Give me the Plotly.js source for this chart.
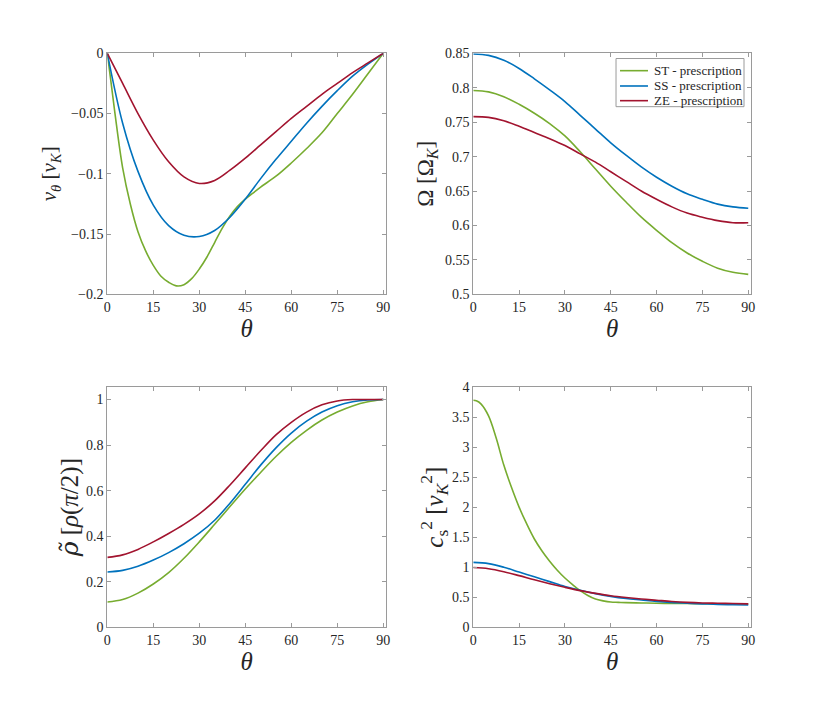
<!DOCTYPE html>
<html>
<head>
<meta charset="utf-8">
<script src="https://cdn.plot.ly/plotly-3.0.1.min.js"></script>
<style>
  html, body { margin: 0; padding: 0; background: #fff; }
  #chart { width: 830px; height: 706px; }
</style>
</head>
<body>
<div id="chart"></div>
<script>
// theta grids (degrees)
const thetaFine = [0, 1, 2.5, 5, 7.5, 10, 12.5, 15, 17.5, 20, 22.5, 25, 27.5, 30, 32.5, 35, 37.5, 40, 42.5, 45, 47.5, 50, 55, 60, 65, 70, 75, 80, 85, 90];
const theta = [0, 5, 10, 15, 20, 25, 30, 35, 40, 45, 50, 55, 60, 65, 70, 75, 80, 85, 90];

// v_theta [v_K]
const vthST = [0, -0.02, -0.05, -0.095, -0.125, -0.148, -0.164, -0.176, -0.185, -0.19, -0.193, -0.192, -0.187, -0.179, -0.169, -0.157, -0.145, -0.135, -0.127, -0.121, -0.116, -0.111, -0.102, -0.091, -0.079, -0.066, -0.050, -0.034, -0.017, 0];
const vthSS = [0, -0.058, -0.098, -0.126, -0.143, -0.151, -0.152, -0.147, -0.136, -0.121, -0.104, -0.088, -0.073, -0.058, -0.044, -0.031, -0.019, -0.009, 0];
const vthZE = [0, -0.025, -0.05, -0.072, -0.09, -0.1025, -0.108, -0.1055, -0.097, -0.087, -0.076, -0.065, -0.054, -0.044, -0.034, -0.025, -0.016, -0.008, 0];

// Omega [Omega_K]
const omST = [0.796, 0.794, 0.787, 0.776, 0.763, 0.748, 0.730, 0.707, 0.682, 0.657, 0.634, 0.612, 0.593, 0.575, 0.560, 0.548, 0.538, 0.532, 0.529];
const omSS = [0.849, 0.847, 0.840, 0.828, 0.813, 0.797, 0.780, 0.760, 0.740, 0.720, 0.702, 0.685, 0.670, 0.657, 0.646, 0.638, 0.631, 0.627, 0.625];
const omZE = [0.758, 0.757, 0.752, 0.744, 0.735, 0.726, 0.716, 0.704, 0.692, 0.678, 0.664, 0.650, 0.638, 0.627, 0.618, 0.612, 0.607, 0.604, 0.604];

// rho tilde [rho(pi/2)]
const rhoST = [0.111, 0.122, 0.15, 0.19, 0.24, 0.303, 0.375, 0.452, 0.53, 0.607, 0.68, 0.75, 0.812, 0.865, 0.91, 0.945, 0.972, 0.99, 1.0];
const rhoSS = [0.243, 0.25, 0.268, 0.295, 0.328, 0.367, 0.413, 0.47, 0.545, 0.628, 0.712, 0.788, 0.853, 0.905, 0.945, 0.973, 0.99, 0.998, 1.0];
const rhoZE = [0.307, 0.318, 0.342, 0.375, 0.412, 0.452, 0.498, 0.555, 0.625, 0.70, 0.775, 0.845, 0.90, 0.945, 0.977, 0.994, 1.0, 1.0, 1.0];

// c_s^2 [v_K^2]
const csST = [3.78, 3.77, 3.72, 3.52, 3.15, 2.70, 2.33, 2.0, 1.72, 1.47, 1.27, 1.10, 0.95, 0.82, 0.71, 0.61, 0.53, 0.47, 0.44, 0.42, 0.415, 0.41, 0.405, 0.40, 0.398, 0.395, 0.392, 0.39, 0.39, 0.39];
const csSS = [1.08, 1.06, 1.0, 0.92, 0.84, 0.76, 0.68, 0.615, 0.56, 0.515, 0.48, 0.455, 0.43, 0.415, 0.40, 0.39, 0.38, 0.375, 0.37];
const csZE = [0.995, 0.975, 0.925, 0.86, 0.79, 0.725, 0.665, 0.61, 0.565, 0.525, 0.495, 0.47, 0.45, 0.43, 0.415, 0.405, 0.40, 0.395, 0.39];

const names = ["ST - prescription", "SS - prescription", "ZE - prescription"];
const colors = ["#77AC30", "#0072BD", "#A2142F"];
const xTicks = [0, 15, 30, 45, 60, 75, 90];

const SERIF = "'Liberation Serif', 'Times New Roman', 'DejaVu Serif', serif";

function line(x, y, i, ax) {
    return {
        x, y, type: "scatter", mode: "lines",
        name: names[i],
        line: { color: colors[i], width: 1.6, shape: "spline", smoothing: 1 },
        xaxis: "x" + ax, yaxis: "y" + ax,
        showlegend: false,
        hoverinfo: "skip",
    };
}

const traces = [
    line(thetaFine, vthST, 0, ""),
    line(theta, vthSS, 1, ""),
    line(theta, vthZE, 2, ""),
    line(theta, omST, 0, "2"),
    line(theta, omSS, 1, "2"),
    line(theta, omZE, 2, "2"),
    line(theta, rhoST, 0, "3"),
    line(theta, rhoSS, 1, "3"),
    line(theta, rhoZE, 2, "3"),
    line(thetaFine, csST, 0, "4"),
    line(theta, csSS, 1, "4"),
    line(theta, csZE, 2, "4"),
];

const tickFont = { family: SERIF, size: 14, color: "#262626" };
const axBase = {
    showline: true, linecolor: "#9a9a9a", linewidth: 1, mirror: "ticks",
    ticks: "inside", ticklen: 4, tickcolor: "#9a9a9a",
    showgrid: false, zeroline: false, tickfont: tickFont, automargin: false,
};
function xa(dom, anchor) {
    return { ...axBase, domain: dom, anchor, range: [0, 90.9], tickvals: xTicks,
        title: { text: "<i>θ</i>", font: { family: SERIF, size: 25, color: "#262626" }, standoff: 1 } };
}
function ya(dom, anchor, range, dtick, title, size, standoff) {
    return { ...axBase, domain: dom, anchor, range, dtick,
        title: { text: title, font: { family: SERIF, size, color: "#262626" }, standoff } };
}

const colL = [0.1293, 0.4651], colR = [0.5702, 0.9048];
const rowT = [0.5831, 0.9245], rowB = [0.1115, 0.4518];

// legend drawn by hand so that its box matches the reference
const legX0 = 0.7422, legX1 = 0.8964, legY0 = 0.8489, legY1 = 0.9171;
const legRows = [0.8999, 0.8782, 0.8574];
const shapes = [{
    type: "rect", xref: "paper", yref: "paper", x0: legX0, x1: legX1, y0: legY0, y1: legY1,
    line: { color: "#9a9a9a", width: 1 }, fillcolor: "#fff", layer: "above",
}];
const annotations = [];
names.forEach((n, i) => {
    shapes.push({ type: "line", xref: "paper", yref: "paper", x0: 0.747, x1: 0.7807,
        y0: legRows[i], y1: legRows[i], line: { color: colors[i], width: 1.6 }, layer: "above" });
    annotations.push({ xref: "paper", yref: "paper", x: 0.7855, y: legRows[i], xanchor: "left", yanchor: "middle",
        text: n, showarrow: false, font: { family: SERIF, size: 13, color: "#262626" } });
});

const rhoTilde = "<span style=\"font-family:'DejaVu Serif'\"><i>ρ̃</i></span>";

const layout = {
    width: 830, height: 706,
    margin: { t: 0, b: 0, l: 0, r: 0 },
    paper_bgcolor: "#fff", plot_bgcolor: "#fff",
    font: { family: SERIF, color: "#262626" },
    showlegend: false,
    xaxis: xa(colL, "y"),
    yaxis: ya(rowT, "x", [-0.2, 0], 0.05, "<i>v</i><sub><i>θ</i></sub> [<i>v</i><sub><i>K</i></sub>]", 21, 8),
    xaxis2: xa(colR, "y2"),
    yaxis2: ya(rowT, "x2", [0.5, 0.85], 0.05, "Ω [Ω<sub><i>K</i></sub>]", 23, 4),
    xaxis3: xa(colL, "y3"),
    yaxis3: ya(rowB, "x3", [0, 1.055], 0.2, rhoTilde + " [<i>ρ</i>(<i>π</i>/2)]", 25, 0),
    xaxis4: xa(colR, "y4"),
    yaxis4: ya(rowB, "x4", [0, 4], 0.5, "<i>c</i><sub>s</sub><sup>2</sup> [<i>v</i><sub><i>K</i></sub><sup>2</sup>]", 25, 0),
    shapes, annotations,
};

Plotly.newPlot("chart", traces, layout, { staticPlot: true });
</script>
</body>
</html>
